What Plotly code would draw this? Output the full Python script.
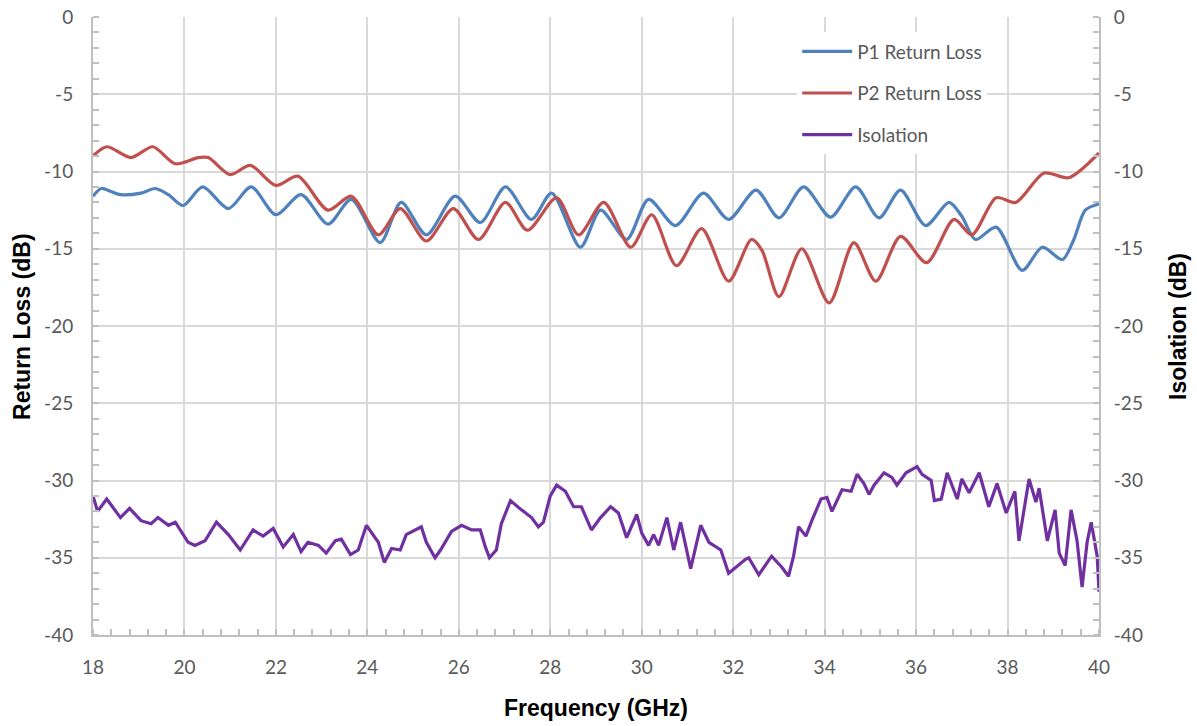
import plotly.graph_objects as go

# ---- data ----
p1_freq = [18.0, 18.18, 18.4, 18.6, 19.05, 19.36, 19.65, 19.97, 20.4, 20.96, 21.46, 22.0, 22.55,
           23.14, 23.65, 24.28, 24.74, 25.29, 25.92, 26.47, 27.02, 27.59, 28.03, 28.66, 29.1,
           29.67, 30.15, 30.74, 31.35, 31.9, 32.5, 33.0, 33.54, 34.13, 34.68, 35.19, 35.66,
           36.21, 36.72, 37.0, 37.3, 37.75, 38.32, 38.76, 39.2, 39.45, 39.7, 40.0]
p1_rl = [-11.6, -11.1, -11.3, -11.5, -11.4, -11.1, -11.5, -12.2, -11.0, -12.4, -11.0, -12.8, -11.5,
         -13.4, -11.8, -14.6, -12.0, -14.1, -11.6, -13.3, -11.0, -13.1, -11.4, -14.9, -12.5,
         -14.4, -11.8, -13.5, -11.4, -13.1, -11.2, -13.0, -11.0, -12.95, -11.0, -13.0, -11.2,
         -13.5, -12.0, -12.9, -14.4, -13.6, -16.4, -14.9, -15.7, -14.4, -12.5, -12.1]

p2_freq = [18.0, 18.3, 18.83, 19.31, 19.8, 20.3, 20.52, 21.0, 21.44, 22.0, 22.48, 23.14, 23.65,
           24.24, 24.72, 25.29, 25.88, 26.43, 27.02, 27.5, 28.14, 28.62, 29.17, 29.76, 30.22,
           30.76, 31.31, 31.9, 32.4, 32.63, 33.0, 33.5, 34.1, 34.64, 35.12, 35.66, 36.23,
           36.83, 37.22, 37.75, 38.18, 38.8, 39.34, 40.0]
p2_rl = [-9.0, -8.4, -9.1, -8.4, -9.5, -9.1, -9.1, -10.2, -9.6, -10.9, -10.3, -12.5, -11.6,
         -14.1, -12.4, -14.5, -12.4, -14.4, -12.0, -13.8, -11.7, -14.1, -12.0, -14.9, -12.8,
         -16.1, -13.7, -17.1, -14.4, -15.1, -18.1, -15.0, -18.5, -14.6, -17.1, -14.2, -15.9,
         -13.1, -14.1, -11.7, -12.0, -10.1, -10.4, -8.8]

iso_freq = [18.0, 18.1, 18.3, 18.6, 18.8, 19.05, 19.27, 19.42, 19.65, 19.8, 20.08, 20.23, 20.45,
            20.7, 20.96, 21.22, 21.5, 21.72, 21.94, 22.16, 22.38, 22.55, 22.7, 22.93, 23.1,
            23.3, 23.43, 23.63, 23.8, 23.98, 24.24, 24.37, 24.53, 24.72, 24.85, 25.07, 25.18,
            25.29, 25.48, 25.6, 25.84, 26.06, 26.28, 26.47, 26.58, 26.67, 26.82, 26.93, 27.13,
            27.37, 27.59, 27.74, 27.85, 28.0, 28.14, 28.33, 28.51, 28.68, 28.9, 29.1, 29.32,
            29.49, 29.67, 29.89, 30.0, 30.15, 30.26, 30.37, 30.55, 30.7, 30.85, 31.07, 31.29,
            31.47, 31.73, 31.9, 32.06, 32.27, 32.34, 32.56, 32.84, 33.06, 33.21, 33.32, 33.43,
            33.59, 33.72, 33.92, 34.05, 34.16, 34.38, 34.58, 34.71, 34.86, 34.97, 35.08, 35.3,
            35.47, 35.58, 35.78, 36.02, 36.13, 36.33, 36.4, 36.55, 36.68, 36.9, 37.0, 37.16,
            37.38, 37.59, 37.77, 37.97, 38.16, 38.25, 38.47, 38.62, 38.69, 38.87, 39.04, 39.13,
            39.26, 39.39, 39.52, 39.63, 39.74, 39.83, 39.96, 40.0]
iso_db = [-31.0, -32.0, -31.2, -32.4, -31.8, -32.6, -32.8, -32.4, -32.9, -32.7, -34.0, -34.2, -33.9,
          -32.7, -33.5, -34.5, -33.2, -33.6, -33.1, -34.3, -33.5, -34.6, -34.0, -34.2, -34.7,
          -33.9, -33.8, -34.8, -34.5, -32.9, -34.0, -35.3, -34.4, -34.5, -33.5, -33.2, -33.0,
          -34.0, -35.0, -34.5, -33.3, -32.9, -33.2, -33.2, -34.3, -35.0, -34.5, -32.8, -31.3,
          -31.9, -32.4, -33.0, -32.7, -31.0, -30.3, -30.7, -31.7, -31.7, -33.2, -32.4, -31.7,
          -32.1, -33.7, -32.2, -33.4, -34.2, -33.5, -34.2, -32.4, -34.5, -32.7, -35.7, -32.9,
          -34.0, -34.5, -36.0, -35.6, -35.1, -35.0, -36.1, -34.9, -35.6, -36.2, -34.9, -33.0,
          -33.6, -32.6, -31.2, -31.1, -32.0, -30.6, -30.7, -29.6, -30.2, -30.9, -30.3, -29.5,
          -29.8, -30.3, -29.5, -29.1, -29.6, -30.0, -31.3, -31.2, -29.5, -31.2, -29.9, -30.8,
          -29.5, -31.7, -30.2, -32.1, -30.7, -33.9, -29.9, -31.4, -30.5, -33.9, -31.9, -34.7,
          -35.5, -31.9, -33.9, -36.9, -34.0, -32.7, -34.9, -37.2]

x_ticks = [18, 20, 22, 24, 26, 28, 30, 32, 34, 36, 38, 40]
y_ticks = [0, -5, -10, -15, -20, -25, -30, -35, -40]
x_labels = [str(v) for v in x_ticks]
y_labels = [str(v) for v in y_ticks]

TICK_FONT = dict(family="Lato, Carlito, Calibri, sans-serif", size=19, color="#595959")
TITLE_FONT = dict(family="Liberation Sans, Arial, sans-serif", size=23, color="#000000")
AXIS_COL = "#bfbfbf"
GRID_COL = "#d9d9d9"

fig = go.Figure()
fig.add_trace(go.Scatter(x=p1_freq, y=p1_rl, name="P1 Return Loss", mode="lines",
                         line=dict(color="#4f81bd", width=3.2, shape="spline", smoothing=0.8),
                         legendgroup="a"))
fig.add_trace(go.Scatter(x=p2_freq, y=p2_rl, name="P2 Return Loss", mode="lines",
                         line=dict(color="#c0504d", width=3.2, shape="spline", smoothing=0.8),
                         legendgroup="b"))
fig.add_trace(go.Scatter(x=iso_freq, y=iso_db, name="Isolation", mode="lines",
                         line=dict(color="#7030a0", width=3.2), yaxis="y2",
                         legendgroup="c"))

minor_y = dict(dtick=1, tick0=0, ticks="inside", ticklen=6, tickcolor=AXIS_COL,
               tickwidth=1.5, showgrid=False)

fig.update_layout(
    width=1197, height=726,
    margin=dict(l=93, r=98, t=17, b=91, autoexpand=False),
    paper_bgcolor="white", plot_bgcolor="white",
    showlegend=True,
    legend=dict(x=0.7, y=0.975, xanchor="left", yanchor="top",
                bgcolor="white", font=TICK_FONT, itemwidth=50,
                tracegroupgap=14),
    xaxis=dict(range=[18, 40], tickvals=x_ticks, ticktext=x_labels, showgrid=True,
               gridcolor=GRID_COL, gridwidth=1.5, automargin=False,
               showline=True, linecolor=AXIS_COL, linewidth=2, ticks="",
               tickfont=TICK_FONT, ticklabelstandoff=14, zeroline=False,
               minor=dict(dtick=0.4, tick0=18, ticks="inside", ticklen=6, tickcolor=AXIS_COL,
                          tickwidth=1.5, showgrid=False)),
    yaxis=dict(range=[-40, 0], tickvals=y_ticks, ticktext=y_labels, showgrid=True,
               gridcolor=GRID_COL, gridwidth=1.5, automargin=False,
               showline=True, linecolor=AXIS_COL, linewidth=2, ticks="",
               tickfont=TICK_FONT, ticklabelstandoff=14, zeroline=False, minor=minor_y),
    yaxis2=dict(range=[-40, 0], tickvals=y_ticks, ticktext=y_labels, overlaying="y",
                side="right", showgrid=False, automargin=False,
                showline=True, linecolor=AXIS_COL, linewidth=2, ticks="",
                tickfont=TICK_FONT, ticklabelstandoff=9, zeroline=False, minor=minor_y),
)

fig.add_annotation(text="<b>Frequency (GHz)</b>", xref="paper", yref="paper",
                   x=0.5, y=-0.118, xanchor="center", yanchor="middle",
                   showarrow=False, font=TITLE_FONT)
fig.add_annotation(text="<b>Return Loss (dB)</b>", xref="paper", yref="paper",
                   x=-0.0706, y=0.5, xanchor="center", yanchor="middle", textangle=-90,
                   showarrow=False, font=TITLE_FONT)
fig.add_annotation(text="<b>Isolation (dB)</b>", xref="paper", yref="paper",
                   x=1.0785, y=0.5, xanchor="center", yanchor="middle", textangle=-90,
                   showarrow=False, font=TITLE_FONT)

fig.write_html("out.html", config={"displayModeBar": False},
               post_script="document.body.style.margin='0px';document.body.style.padding='0px';document.body.style.overflow='hidden';")
